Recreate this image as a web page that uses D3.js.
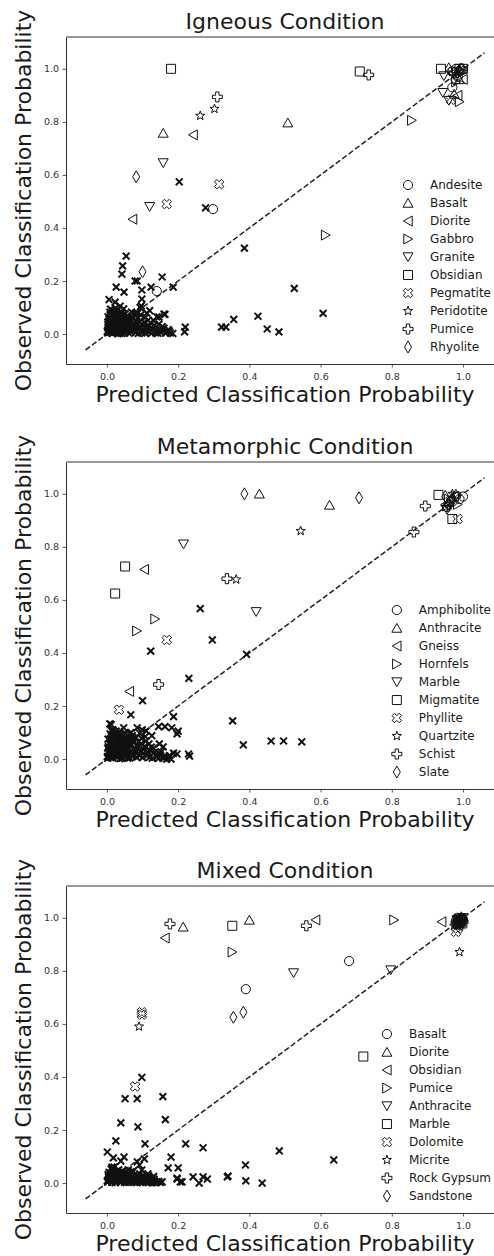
<!DOCTYPE html>
<html>
<head>
<meta charset="utf-8">
<script src="https://cdn.jsdelivr.net/npm/d3@7"></script>
<style>
  body { margin: 0; background: #fff; }
  text { font-family: "DejaVu Sans", sans-serif; }
</style>
</head>
<body>
<div id="d3"></div>
<script>
// ---- data: [predicted, observed] ----
const tickValues = [0, 0.2, 0.4, 0.6, 0.8, 1.0];
const markerTypes = ["circle", "triUp", "triLeft", "triRight", "triDown", "square", "xFilled", "star", "plus", "thinDiamond"];

const igneousNames = ["Andesite", "Basalt", "Diorite", "Gabbro", "Granite", "Obsidian", "Pegmatite", "Peridotite", "Pumice", "Rhyolite"];
const igneousGroups = [
  [[0.298, 0.471], [0.14, 0.162], [0.97, 0.99], [0.98, 1.0], [0.97, 0.93], [0.985, 0.97]],
  [[0.158, 0.758], [0.508, 0.797], [0.99, 1.0], [0.975, 0.905], [0.99, 0.96]],
  [[0.242, 0.751], [0.072, 0.433], [0.985, 0.9], [1.0, 0.96], [0.98, 0.99]],
  [[0.856, 0.806], [0.614, 0.373], [0.99, 0.876], [0.98, 0.95], [1.0, 0.99]],
  [[0.158, 0.645], [0.12, 0.48], [0.946, 0.973], [0.943, 0.91], [0.96, 0.88]],
  [[0.18, 1.0], [0.71, 0.99], [0.938, 1.0], [0.99, 1.0], [1.0, 1.0]],
  [[0.315, 0.565], [0.168, 0.49], [0.966, 0.883], [0.97, 0.99], [0.995, 0.995]],
  [[0.262, 0.823], [0.302, 0.849], [0.98, 0.98], [0.99, 0.99]],
  [[0.31, 0.894], [0.735, 0.977], [0.975, 0.985], [0.995, 1.0]],
  [[0.082, 0.593], [0.1, 0.235], [0.96, 1.0], [0.975, 0.96]]
];
const igneousMisc = [
  [0.203, 0.574], [0.277, 0.476], [0.386, 0.324], [0.526, 0.172], [0.607, 0.078], [0.356, 0.055],
  [0.424, 0.067], [0.45, 0.019], [0.483, 0.008], [0.322, 0.026], [0.334, 0.026], [0.22, 0.026],
  [0.218, 0.008], [0.054, 0.294], [0.044, 0.257], [0.042, 0.226], [0.026, 0.177], [0.048, 0.158],
  [0.079, 0.2], [0.085, 0.2], [0.098, 0.166], [0.124, 0.177], [0.155, 0.215], [0.186, 0.177],
  [0.098, 0.132], [0.006, 0.13], [0.023, 0.12], [0.037, 0.105], [0.12, 0.088], [0.093, 0.1],
  [0.163, 0.074], [0.14, 0.065], [0.08, 0.078], [0.096, 0.106], [0.16, 0.075], [0.146, 0.064],
  [0.002, 0.004], [0.008, 0.012], [0.015, 0.002], [0.004, 0.028], [0.012, 0.041], [0.021, 0.018],
  [0.027, 0.006], [0.031, 0.033], [0.006, 0.055], [0.018, 0.062], [0.024, 0.047], [0.036, 0.014],
  [0.041, 0.002], [0.044, 0.026], [0.009, 0.072], [0.028, 0.078], [0.035, 0.058], [0.048, 0.044],
  [0.052, 0.011], [0.057, 0.031], [0.014, 0.088], [0.039, 0.085], [0.003, 0.045], [0.019, 0.032],
  [0.062, 0.003], [0.066, 0.052], [0.071, 0.018], [0.075, 0.038], [0.081, 0.006], [0.087, 0.061],
  [0.092, 0.027], [0.098, 0.004], [0.104, 0.044], [0.111, 0.012], [0.118, 0.031], [0.125, 0.002],
  [0.131, 0.051], [0.139, 0.016], [0.146, 0.037], [0.152, 0.005], [0.16, 0.022], [0.168, 0.008],
  [0.175, 0.012], [0.185, 0.002], [0.058, 0.067], [0.069, 0.083], [0.047, 0.095], [0.024, 0.098],
  [0.082, 0.048], [0.095, 0.072], [0.108, 0.063], [0.012, 0.021], [0.033, 0.022], [0.055, 0.057],
  [0.077, 0.027], [0.1, 0.019], [0.122, 0.042], [0.143, 0.003], [0.016, 0.052], [0.042, 0.069],
  [0.001, 0.01], [0.005, 0.019], [0.01, 0.006], [0.013, 0.03], [0.017, 0.011], [0.02, 0.04],
  [0.024, 0.025], [0.028, 0.014], [0.032, 0.045], [0.035, 0.003], [0.038, 0.037], [0.043, 0.049],
  [0.046, 0.016], [0.05, 0.035], [0.053, 0.021], [0.002, 0.036], [0.007, 0.049], [0.011, 0.061],
  [0.016, 0.073], [0.021, 0.083], [0.026, 0.066], [0.03, 0.055], [0.034, 0.071], [0.038, 0.061],
  [0.042, 0.08], [0.047, 0.064], [0.051, 0.076], [0.003, 0.065], [0.008, 0.082], [0.022, 0.052],
  [0.027, 0.036], [0.04, 0.009], [0.045, 0.055], [0.049, 0.003], [0.055, 0.045], [0.058, 0.014],
  [0.013, 0.052], [0.018, 0.025], [0.031, 0.001], [0.036, 0.027], [0.006, 0.007], [0.025, 0.011],
  [0.044, 0.036], [0.052, 0.06], [0.01, 0.094], [0.03, 0.09], [0.06, 0.024], [0.064, 0.041],
  [0.068, 0.008], [0.073, 0.058], [0.079, 0.016], [0.084, 0.035], [0.088, 0.002], [0.091, 0.047],
  [0.096, 0.013], [0.102, 0.033], [0.107, 0.003], [0.113, 0.025], [0.116, 0.052], [0.121, 0.01],
  [0.128, 0.021], [0.134, 0.034], [0.137, 0.004], [0.149, 0.014], [0.155, 0.028], [0.165, 0.003],
  [0.172, 0.017], [0.178, 0.004], [0.07, 0.068], [0.086, 0.078], [0.112, 0.079]
];

const metaNames = ["Amphibolite", "Anthracite", "Gneiss", "Hornfels", "Marble", "Migmatite", "Phyllite", "Quartzite", "Schist", "Slate"];
const metaGroups = [
  [[0.99, 0.98], [0.97, 0.97], [0.955, 0.95], [1.0, 0.99]],
  [[0.428, 1.0], [0.625, 0.958], [0.98, 1.0], [0.96, 0.97]],
  [[0.105, 0.715], [0.063, 0.255], [0.95, 0.96], [0.975, 0.99]],
  [[0.135, 0.528], [0.084, 0.483], [0.96, 0.98], [0.985, 0.96]],
  [[0.215, 0.81], [0.419, 0.555], [0.955, 0.94], [0.98, 0.99]],
  [[0.051, 0.726], [0.023, 0.624], [0.931, 0.996], [0.97, 0.905]],
  [[0.168, 0.449], [0.034, 0.186], [0.985, 0.905], [0.965, 0.975]],
  [[0.544, 0.86], [0.363, 0.677], [0.95, 0.95], [0.97, 1.0]],
  [[0.337, 0.68], [0.145, 0.281], [0.894, 0.954], [0.862, 0.856], [0.96, 0.96]],
  [[0.386, 1.0], [0.708, 0.985], [0.97, 0.98], [0.95, 0.99]]
];
const metaMisc = [
  [0.262, 0.567], [0.123, 0.407], [0.296, 0.449], [0.392, 0.395], [0.23, 0.304], [0.1, 0.22],
  [0.067, 0.167], [0.187, 0.16], [0.353, 0.144], [0.383, 0.053], [0.461, 0.068], [0.496, 0.068],
  [0.547, 0.065], [0.229, 0.019], [0.232, 0.011], [0.197, 0.019], [0.18, 0.0], [0.012, 0.13],
  [0.126, 0.088], [0.145, 0.122], [0.163, 0.122], [0.182, 0.118], [0.197, 0.095], [0.2, 0.105],
  [0.147, 0.057], [0.158, 0.046], [0.085, 0.118], [0.11, 0.106], [0.073, 0.08], [0.187, 0.022],
  [0.168, 0.0], [0.15, 0.015], [0.008, 0.133], [0.017, 0.11], [0.07, 0.068],
  [0.002, 0.003], [0.009, 0.014], [0.016, 0.004], [0.005, 0.031], [0.013, 0.044], [0.022, 0.021],
  [0.029, 0.008], [0.032, 0.036], [0.007, 0.058], [0.019, 0.066], [0.026, 0.05], [0.037, 0.016],
  [0.043, 0.003], [0.046, 0.029], [0.011, 0.077], [0.03, 0.082], [0.037, 0.061], [0.05, 0.047],
  [0.054, 0.012], [0.059, 0.034], [0.016, 0.092], [0.041, 0.09], [0.004, 0.047], [0.021, 0.035],
  [0.064, 0.004], [0.068, 0.056], [0.073, 0.02], [0.078, 0.041], [0.083, 0.007], [0.089, 0.066],
  [0.094, 0.029], [0.1, 0.005], [0.106, 0.048], [0.113, 0.013], [0.12, 0.034], [0.127, 0.003],
  [0.133, 0.025], [0.141, 0.009], [0.148, 0.018], [0.156, 0.004], [0.163, 0.011], [0.171, 0.006],
  [0.06, 0.072], [0.071, 0.088], [0.05, 0.1], [0.026, 0.105], [0.085, 0.052], [0.097, 0.078],
  [0.11, 0.068], [0.013, 0.023], [0.034, 0.025], [0.057, 0.06], [0.079, 0.03], [0.102, 0.021],
  [0.124, 0.045], [0.145, 0.002], [0.017, 0.056], [0.044, 0.074], [0.092, 0.097], [0.065, 0.097],
  [0.001, 0.009], [0.006, 0.022], [0.011, 0.005], [0.015, 0.035], [0.02, 0.012], [0.024, 0.048],
  [0.028, 0.029], [0.033, 0.017], [0.038, 0.053], [0.041, 0.004], [0.045, 0.042], [0.051, 0.058],
  [0.055, 0.02], [0.06, 0.04], [0.064, 0.025], [0.002, 0.041], [0.008, 0.057], [0.012, 0.071],
  [0.018, 0.083], [0.023, 0.095], [0.029, 0.076], [0.035, 0.065], [0.039, 0.082], [0.045, 0.07],
  [0.049, 0.092], [0.055, 0.075], [0.06, 0.088], [0.003, 0.075], [0.009, 0.095], [0.025, 0.06],
  [0.031, 0.042], [0.048, 0.011], [0.053, 0.064], [0.058, 0.003], [0.066, 0.052], [0.069, 0.016],
  [0.015, 0.06], [0.021, 0.028], [0.036, 0.001], [0.042, 0.031], [0.007, 0.008], [0.03, 0.013],
  [0.052, 0.042], [0.062, 0.07], [0.012, 0.108], [0.035, 0.104], [0.072, 0.009], [0.076, 0.063],
  [0.081, 0.024], [0.087, 0.046], [0.091, 0.013], [0.096, 0.058], [0.104, 0.036], [0.108, 0.085],
  [0.116, 0.023], [0.119, 0.006], [0.131, 0.041], [0.138, 0.016], [0.152, 0.027], [0.16, 0.004],
  [0.175, 0.013], [0.082, 0.081], [0.068, 0.1], [0.099, 0.11], [0.118, 0.057], [0.047, 0.118]
];

const mixedNames = ["Basalt", "Diorite", "Obsidian", "Pumice", "Anthracite", "Marble", "Dolomite", "Micrite", "Rock Gypsum", "Sandstone"];
const mixedGroups = [
  [[0.68, 0.837], [0.39, 0.731], [0.99, 0.99], [0.985, 1.0], [0.995, 0.995], [0.988, 0.982], [1.0, 0.992]],
  [[0.214, 0.966], [0.4, 0.992], [0.99, 1.0], [0.995, 0.985], [0.98, 0.995], [0.992, 0.993], [0.984, 0.978]],
  [[0.163, 0.924], [0.586, 0.992], [0.94, 0.985], [0.985, 0.99], [0.993, 0.998], [0.978, 0.985]],
  [[0.352, 0.871], [0.806, 0.992], [1.0, 0.995], [0.99, 0.98], [0.996, 0.988], [0.987, 0.996]],
  [[0.524, 0.792], [0.797, 0.803], [0.99, 0.98], [1.0, 1.0], [0.994, 0.99], [0.983, 0.992]],
  [[0.352, 0.97], [0.72, 0.477], [0.995, 0.995], [0.985, 0.985], [0.991, 0.987], [0.998, 0.979]],
  [[0.098, 0.644], [0.098, 0.635], [0.079, 0.364], [0.98, 0.947], [0.99, 0.97], [0.986, 0.96]],
  [[0.09, 0.59], [0.99, 0.871], [0.975, 0.97], [0.992, 0.975]],
  [[0.177, 0.977], [0.56, 0.97], [0.99, 0.99], [1.0, 0.985], [0.982, 0.99], [0.997, 0.997]],
  [[0.355, 0.625], [0.383, 0.644], [0.985, 0.985], [0.995, 1.0], [0.989, 0.978], [0.999, 0.99]]
];
const mixedMisc = [
  [0.098, 0.398], [0.051, 0.318], [0.085, 0.318], [0.157, 0.326], [0.039, 0.227], [0.087, 0.212],
  [0.164, 0.239], [0.025, 0.159], [0.107, 0.148], [0.221, 0.148], [0.27, 0.133], [0.484, 0.121],
  [0.637, 0.087], [0.389, 0.068], [0.34, 0.026], [0.39, 0.008], [0.436, 0.0], [0.242, 0.023],
  [0.27, 0.023], [0.282, 0.015], [0.259, 0.0], [0.2, 0.057], [0.172, 0.057], [0.18, 0.098],
  [0.197, 0.015], [0.211, 0.004], [0.155, 0.004], [0.001, 0.117], [0.018, 0.095], [0.048, 0.098],
  [0.039, 0.083], [0.105, 0.091], [0.091, 0.068], [0.098, 0.049], [0.015, 0.055], [0.085, 0.08],
  [0.073, 0.045], [0.197, 0.019], [0.206, 0.004], [0.338, 0.023], [0.014, 0.06],
  [0.002, 0.003], [0.008, 0.012], [0.014, 0.002], [0.004, 0.024], [0.011, 0.033], [0.019, 0.016],
  [0.025, 0.005], [0.029, 0.027], [0.006, 0.04], [0.017, 0.045], [0.022, 0.036], [0.034, 0.012],
  [0.039, 0.002], [0.042, 0.022], [0.047, 0.033], [0.052, 0.008], [0.057, 0.019], [0.061, 0.002],
  [0.066, 0.028], [0.071, 0.011], [0.075, 0.004], [0.08, 0.021], [0.085, 0.006], [0.089, 0.015],
  [0.094, 0.002], [0.099, 0.026], [0.104, 0.009], [0.109, 0.003], [0.114, 0.017], [0.119, 0.006],
  [0.124, 0.012], [0.129, 0.002], [0.134, 0.008], [0.14, 0.003], [0.033, 0.05], [0.055, 0.042],
  [0.07, 0.038], [0.012, 0.052], [0.026, 0.02], [0.045, 0.014], [0.063, 0.014], [0.078, 0.03],
  [0.092, 0.035], [0.102, 0.018], [0.117, 0.027], [0.007, 0.018], [0.036, 0.039], [0.049, 0.003],
  [0.084, 0.001], [0.126, 0.001],
  [0.001, 0.008], [0.005, 0.015], [0.009, 0.028], [0.013, 0.007], [0.016, 0.021], [0.02, 0.031],
  [0.023, 0.001], [0.027, 0.013], [0.031, 0.022], [0.035, 0.03], [0.037, 0.006], [0.041, 0.015],
  [0.044, 0.027], [0.048, 0.019], [0.051, 0.029], [0.054, 0.002], [0.059, 0.01], [0.062, 0.024],
  [0.065, 0.005], [0.068, 0.018], [0.073, 0.025], [0.076, 0.013], [0.082, 0.012], [0.087, 0.027],
  [0.091, 0.008], [0.096, 0.016], [0.1, 0.003], [0.106, 0.022], [0.111, 0.011], [0.116, 0.001],
  [0.121, 0.019], [0.127, 0.007], [0.132, 0.015], [0.137, 0.001], [0.145, 0.006], [0.15, 0.002],
  [0.003, 0.032], [0.018, 0.038], [0.028, 0.043], [0.04, 0.035], [0.058, 0.033], [0.067, 0.042],
  [0.09, 0.024], [0.043, 0.045], [0.02, 0.06], [0.06, 0.05], [0.115, 0.035], [0.131, 0.025]
];

const panels = [
  { title: "Igneous Condition", names: igneousNames, groups: igneousGroups, misc: igneousMisc, top: 37 },
  { title: "Metamorphic Condition", names: metaNames, groups: metaGroups, misc: metaMisc, top: 462 },
  { title: "Mixed Condition", names: mixedNames, groups: mixedGroups, misc: mixedMisc, top: 886 }
];

// ---- layout ----
const W = 494, H = 1256;
const left = 66, right = 504, ph = 327;
const ink = "#111";

// marker outlines, centred on 0,0
function markerPath(type) {
  const r = 4.6;
  switch (type) {
    case "circle":
      return `M${r},0A${r},${r} 0 1 1 ${-r},0A${r},${r} 0 1 1 ${r},0Z`;
    case "square":
      return "M-4.5,-4.5H4.5V4.5H-4.5Z";
    case "triUp":
      return "M0,-4.6L5,4.2L-5,4.2Z";
    case "triDown":
      return "M0,4.6L5,-4.2L-5,-4.2Z";
    case "triLeft":
      return "M-4.6,0L4.2,-5L4.2,5Z";
    case "triRight":
      return "M4.6,0L-4.2,-5L-4.2,5Z";
    case "thinDiamond":
      return "M0,-6L3.5,0L0,6L-3.5,0Z";
    case "star": {
      const pts = [];
      for (let i = 0; i < 10; i++) {
        const rad = i % 2 === 0 ? 4.8 : 2.0;
        const a = -Math.PI / 2 + (i * Math.PI) / 5;
        pts.push([rad * Math.cos(a), rad * Math.sin(a)]);
      }
      return "M" + pts.map((p) => p.join(",")).join("L") + "Z";
    }
    case "plus":
      return "M-1.7,-5H1.7V-1.7H5V1.7H1.7V5H-1.7V1.7H-5V-1.7H-1.7Z";
    case "xFilled": {
      // plus shape turned 45 degrees
      const base = [[-1.7, -5], [1.7, -5], [1.7, -1.7], [5, -1.7], [5, 1.7], [1.7, 1.7], [1.7, 5], [-1.7, 5], [-1.7, 1.7], [-5, 1.7], [-5, -1.7], [-1.7, -1.7]];
      const c = Math.SQRT1_2;
      return "M" + base.map(([a, b]) => [(a - b) * c, (a + b) * c].join(",")).join("L") + "Z";
    }
  }
}

const svg = d3
  .select("#d3")
  .append("svg")
  .attr("width", W)
  .attr("height", H);

const x = d3.scaleLinear().domain([-0.115, 1.115]).range([left, right]);

panels.forEach((p) => {
  const y = d3
    .scaleLinear()
    .domain([-0.113, 1.12])
    .range([p.top + ph, p.top]);

  const g = svg.append("g");

  // title
  g.append("text")
    .attr("x", (left + right) / 2)
    .attr("y", p.top - 8)
    .attr("text-anchor", "middle")
    .attr("font-size", 22)
    .attr("fill", "#1a1a1a")
    .text(p.title);

  // axes
  const xAxis = g
    .append("g")
    .attr("transform", `translate(0,${p.top + ph})`)
    .call(d3.axisBottom(x).tickValues(tickValues).tickFormat(d3.format(".1f")).tickSize(3.5).tickSizeOuter(0));
  const yAxis = g
    .append("g")
    .attr("transform", `translate(${left},0)`)
    .call(d3.axisLeft(y).tickValues(tickValues).tickFormat(d3.format(".1f")).tickSize(3.5).tickSizeOuter(0));

  [xAxis, yAxis].forEach((a) => {
    a.select(".domain").attr("stroke", "#333").attr("stroke-width", 1);
    a.selectAll(".tick line").attr("stroke", "#333").attr("stroke-width", 0.8);
    a.selectAll(".tick text")
      .attr("font-family", "DejaVu Sans, sans-serif")
      .attr("font-size", 9.5)
      .attr("fill", "#333");
  });
  xAxis.selectAll(".tick text").attr("y", 9);
  yAxis.selectAll(".tick text").attr("x", -7);

  // top spine (right one falls outside the crop)
  g.append("line")
    .attr("x1", left).attr("x2", right)
    .attr("y1", p.top).attr("y2", p.top)
    .attr("stroke", "#333").attr("stroke-width", 1);

  // axis labels
  g.append("text")
    .attr("x", (left + right) / 2)
    .attr("y", p.top + ph + 38)
    .attr("text-anchor", "middle")
    .attr("font-size", 22)
    .attr("fill", "#1a1a1a")
    .text("Predicted Classification Probability");
  g.append("text")
    .attr("transform", `translate(31,${p.top + ph / 2}) rotate(-90)`)
    .attr("text-anchor", "middle")
    .attr("font-size", 22)
    .attr("fill", "#1a1a1a")
    .text("Observed Classification Probability");

  // diagonal reference
  g.append("line")
    .attr("x1", x(-0.06)).attr("y1", y(-0.06))
    .attr("x2", x(1.06)).attr("y2", y(1.06))
    .attr("stroke", "#222")
    .attr("stroke-width", 1.5)
    .attr("stroke-dasharray", "5.5,2.5");

  // unlabelled misclassifications
  g.append("g")
    .selectAll("path")
    .data(p.misc)
    .join("path")
    .attr("transform", (d) => `translate(${x(d[0])},${y(d[1])})`)
    .attr("d", "M-3.4,-3.4L3.4,3.4M-3.4,3.4L3.4,-3.4")
    .attr("stroke", ink)
    .attr("stroke-width", 2)
    .attr("fill", "none");

  // classes
  p.groups.forEach((pts, i) => {
    g.append("g")
      .selectAll("path")
      .data(pts)
      .join("path")
      .attr("transform", (d) => `translate(${x(d[0])},${y(d[1])})`)
      .attr("d", markerPath(markerTypes[i]))
      .attr("fill", "none")
      .attr("stroke", ink)
      .attr("stroke-width", 1);
  });

  // legend, right aligned inside the axes
  const leg = g.append("g");
  const rowY = (i) => y(0) + 13 - (p.names.length - 1 - i) * 18;
  const labels = leg
    .selectAll("text")
    .data(p.names)
    .join("text")
    .attr("y", (d, i) => rowY(i))
    .attr("dy", "0.35em")
    .attr("font-size", 12)
    .attr("fill", "#1a1a1a")
    .text((d) => d);
  let maxW = 0;
  labels.each(function () {
    maxW = Math.max(maxW, this.getComputedTextLength());
  });
  const textX = 491 - maxW;
  labels.attr("x", textX);
  leg.selectAll("path")
    .data(p.names)
    .join("path")
    .attr("transform", (d, i) => `translate(${textX - 22},${rowY(i)})`)
    .attr("d", (d, i) => markerPath(markerTypes[i]))
    .attr("fill", "none")
    .attr("stroke", ink)
    .attr("stroke-width", 1);
});
</script>
</body>
</html>
